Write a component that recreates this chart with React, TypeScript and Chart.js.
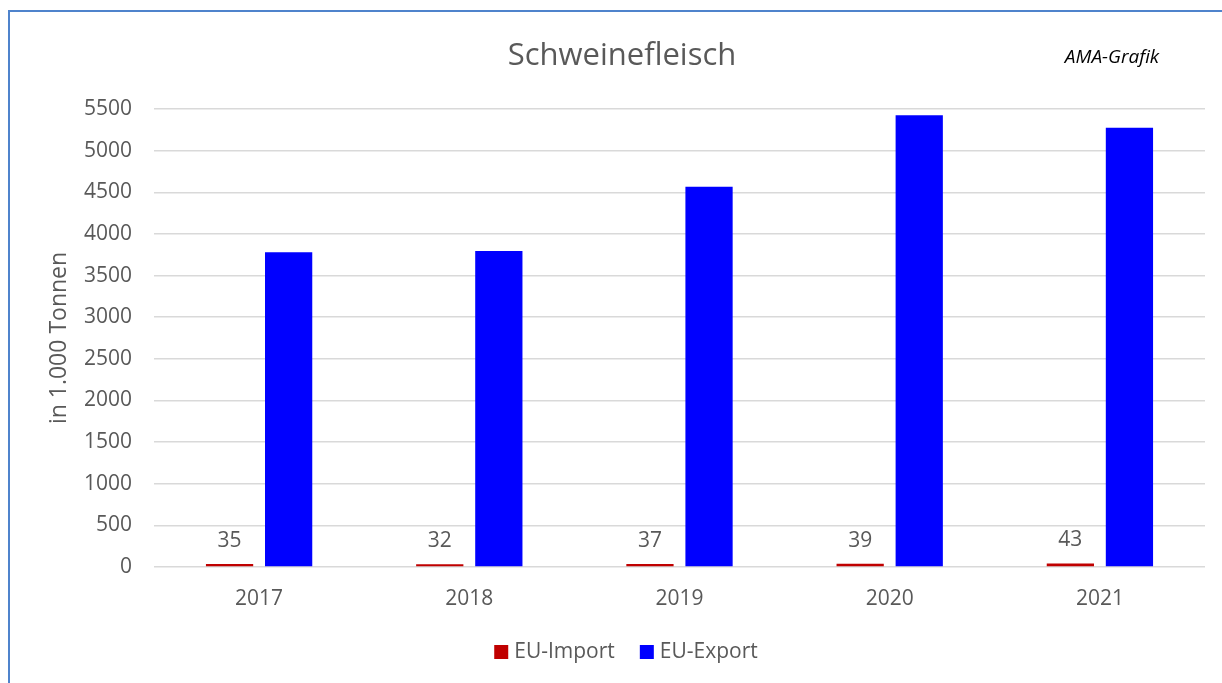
import React, { useEffect, useRef } from "react";
import { Chart, registerables } from "chart.js";

Chart.register(...registerables);

const years = ["2017", "2018", "2019", "2020", "2021"];
const euImport = [35, 32, 37, 39, 43];
const euExport = [3780, 3795, 4565, 5425, 5275];
const seriesNames = ["EU-Import", "EU-Export"];
const seriesColors = ["#c00000", "#0000ff"];
const chartTitle = "Schweinefleisch";
const sourceNote = "AMA-Grafik";
const yAxisTitle = "in 1.000 Tonnen";

const FONT = "'Open Sans', 'Noto Sans', sans-serif";
const GREY = "#595959";

const textPlugin = {
  id: "textPlugin",
  afterDatasetsDraw(chart: any) {
    const ctx = chart.ctx;
    ctx.save();
    const meta = chart.getDatasetMeta(0);
    ctx.fillStyle = GREY;
    ctx.font = `21px ${FONT}`;
    ctx.textAlign = "center";
    ctx.textBaseline = "middle";
    meta.data.forEach((bar: any, i: number) => {
      ctx.fillText(String(chart.data.datasets[0].data[i]), bar.x, bar.y - 23);
    });
    ctx.restore();
  },
  afterDraw(chart: any) {
    const ctx = chart.ctx;
    ctx.save();
    // title
    ctx.fillStyle = GREY;
    ctx.font = `31px ${FONT}`;
    ctx.textAlign = "center";
    ctx.textBaseline = "middle";
    ctx.fillText(chartTitle, 622, 56);
    // source note
    ctx.fillStyle = "#000000";
    ctx.font = `italic 19px ${FONT}`;
    ctx.fillText(sourceNote, 1112, 58);
    // y axis title
    ctx.save();
    ctx.translate(59, 338);
    ctx.rotate(-Math.PI / 2);
    ctx.fillStyle = GREY;
    ctx.font = `23px ${FONT}`;
    ctx.fillText(yAxisTitle, 0, 0);
    ctx.restore();
    // legend
    ctx.font = `21px ${FONT}`;
    ctx.textAlign = "left";
    const box = 14;
    const gapBox = 6;
    const gapItem = 25;
    const widths = seriesNames.map((n) => ctx.measureText(n).width);
    const total =
      widths.reduce((a, b) => a + b, 0) + seriesNames.length * (box + gapBox) + gapItem * (seriesNames.length - 1);
    let x = 626 - total / 2;
    const cy = 652;
    seriesNames.forEach((n, i) => {
      ctx.fillStyle = seriesColors[i];
      ctx.fillRect(x, cy - box / 2, box, box);
      x += box + gapBox;
      ctx.fillStyle = GREY;
      ctx.fillText(n, x, cy);
      x += widths[i] + gapItem;
    });
    ctx.restore();
  },
};

export default function App() {
  const ref = useRef<HTMLCanvasElement>(null);
  useEffect(() => {
    if (!ref.current) return;
    const chart = new Chart(ref.current, {
      type: "bar",
      data: {
        labels: years,
        datasets: [
          {
            label: seriesNames[0],
            data: euImport,
            backgroundColor: seriesColors[0],
            categoryPercentage: 0.562,
            barPercentage: 0.8,
          },
          {
            label: seriesNames[1],
            data: euExport,
            backgroundColor: seriesColors[1],
            categoryPercentage: 0.562,
            barPercentage: 0.8,
          },
        ],
      },
      options: {
        animation: false,
        responsive: false,
        devicePixelRatio: 1,
        layout: { padding: { left: 0, right: 17, top: 109, bottom: 56 } },
        plugins: {
          legend: { display: false },
          title: { display: false },
          tooltip: { enabled: false },
        },
        scales: {
          x: {
            grid: { display: false },
            border: { display: false },
            ticks: { color: GREY, font: { family: FONT, size: 21 }, padding: 11 },
            afterFit: (s: any) => {
              s.height = 60;
            },
          },
          y: {
            min: 0,
            max: 5500,
            grid: { color: "#d9d9d9", lineWidth: 1.5, drawTicks: false },
            border: { display: false },
            ticks: {
              stepSize: 500,
              color: GREY,
              font: { family: FONT, size: 21 },
              padding: 22,
              callback: (v: any) => String(v),
            },
            afterFit: (s: any) => {
              s.width = 154;
            },
          },
        },
      },
      plugins: [textPlugin],
    });
    return () => chart.destroy();
  }, []);

  return (
    <div style={{ position: "fixed", left: 0, top: 0, width: 1222, height: 683, background: "#fff", overflow: "hidden" }}>
      <div
        style={{
          position: "absolute",
          left: 8,
          top: 10,
          width: 1300,
          height: 800,
          borderLeft: "2px solid #4f83cc",
          borderTop: "2px solid #4f83cc",
        }}
      />
      <canvas ref={ref} width={1222} height={683} style={{ position: "absolute", left: 0, top: 0 }} />
    </div>
  );
}
